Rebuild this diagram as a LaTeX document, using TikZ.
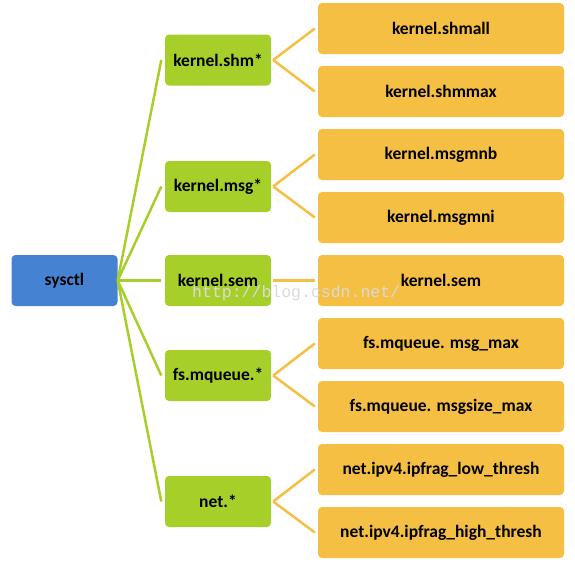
\documentclass[tikz,border=0pt]{standalone}
\usepackage{fontspec}
\setmainfont{Carlito}
\newfontfamily\wmfont{Liberation Mono}
\definecolor{cblue}{HTML}{4583D2}
\definecolor{cgreen}{HTML}{A6CF2A}
\definecolor{corange}{HTML}{F4BF42}
\definecolor{cwm}{HTML}{DADADA}
\begin{document}
\begin{tikzpicture}[x=1pt,y=-1pt,
  base/.style={rounded corners=4pt, inner sep=0pt, font=\bfseries\fontsize{17.5}{17.5}\selectfont, text=black},
  rootbox/.style={base, fill=cblue, minimum width=106pt, minimum height=51pt},
  midbox/.style={base, fill=cgreen, minimum width=106pt, minimum height=51pt},
  leafbox/.style={base, fill=corange, minimum width=246pt, minimum height=51pt},
  gline/.style={draw=cgreen, line width=2.5pt},
  oline/.style={draw=corange, line width=2.5pt}]
\useasboundingbox (0,0) rectangle (575,562);
\node[rootbox] (root) at (64.5,280.5) {sysctl};
\node[midbox] (m1) at (218,60) {kernel.shm*};
\node[midbox] (m2) at (218,186.5) {kernel.msg*};
\node[midbox] (m3) at (218,280.5) {kernel.sem};
\node[midbox] (m4) at (218,375.5) {fs.mqueue.*};
\node[midbox] (m5) at (218,501.5) {net.*};
\node[leafbox] (l1) at (441,28.5) {kernel.shmall};
\node[leafbox] (l2) at (441,91.5) {kernel.shmmax};
\node[leafbox] (l3) at (441,154.5) {kernel.msgmnb};
\node[leafbox] (l4) at (441,217.5) {kernel.msgmni};
\node[leafbox] (l5) at (441,280.5) {kernel.sem};
\node[leafbox] (l6) at (441,343.5) {fs.mqueue. msg\_max};
\node[leafbox] (l7) at (441,406.5) {fs.mqueue. msgsize\_max};
\node[leafbox] (l8) at (441,469.5) {net.ipv4.ipfrag\_low\_thresh};
\node[leafbox] (l9) at (441,532.5) {net.ipv4.ipfrag\_high\_thresh};
\foreach \m in {m1,m2,m3,m4,m5}
  \draw[gline] (root.east) -- ([xshift=-3.5pt]\m.west);
\foreach \m/\l in {m1/l1,m1/l2,m2/l3,m2/l4,m3/l5,m4/l6,m4/l7,m5/l8,m5/l9}
  \draw[oline] ([xshift=2pt]\m.east) -- ([xshift=-3pt]\l.west);
\node[anchor=base west, inner sep=0pt, text=cwm, font=\wmfont\fontsize{16.5}{16.5}\selectfont] (wm) at (192,297) {http://blog.csdn.net/};
\end{tikzpicture}
\end{document}
